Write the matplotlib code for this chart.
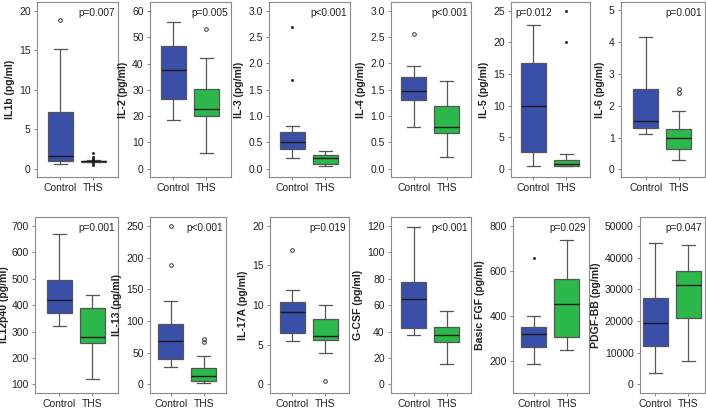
import matplotlib
matplotlib.use("Agg")
import matplotlib.pyplot as plt

plt.rcParams['font.family'] = ['Liberation Sans', 'DejaVu Sans']

groups = ["Control", "THS"]
labels = ["IL1b (pg/ml)", "IL-2 (pg/ml)", "IL-3 (pg/ml)", "IL-4 (pg/ml)", "IL-5 (pg/ml)", "IL-6 (pg/ml)",
          "IL12p40 (pg/ml)", "IL-13 (pg/ml)", "IL-17A (pg/ml)", "G-CSF (pg/ml)", "Basic FGF (pg/ml)", "PDGF-BB (pg/ml)"]
pvalues = ["p=0.007", "p=0.005", "p<0.001", "p<0.001", "p=0.012", "p=0.001",
           "p=0.001", "p<0.001", "p=0.019", "p<0.001", "p=0.029", "p=0.047"]

# [whislo, q1, med, q3, whishi] for Control and THS
control_stats = [
    [0.63, 0.97, 1.6, 7.2, 15.2],
    [18.4, 26.6, 37.7, 46.7, 55.8],
    [0.21, 0.38, 0.51, 0.70, 0.805],
    [0.79, 1.30, 1.48, 1.75, 1.96],
    [0.48, 2.64, 10.0, 16.7, 22.7],
    [1.10, 1.29, 1.52, 2.54, 4.15],
    [320, 372, 420, 496, 668],
    [27, 40, 68.6, 94.4, 131],
    [5.5, 6.5, 9.07, 10.4, 11.9],
    [37.7, 42.5, 64.8, 77.7, 119.5],
    [188, 261, 321, 350, 401],
    [3500, 12100, 19500, 27300, 44700],
]
ths_stats = [
    [0.85, 0.9, 0.95, 1.0, 1.05],
    [5.8, 19.9, 22.7, 30.3, 42.1],
    [0.05, 0.095, 0.21, 0.25, 0.34],
    [0.22, 0.68, 0.79, 1.20, 1.67],
    [0.48, 0.48, 0.8, 1.43, 2.38],
    [0.30, 0.65, 0.98, 1.27, 1.82],
    [120, 258, 278, 389, 439],
    [2.6, 5.3, 12.7, 26, 44],
    [3.9, 5.6, 6.1, 8.2, 10.0],
    [15.7, 32.4, 37.5, 43.5, 55.7],
    [250, 308, 452, 567, 739],
    [7500, 21000, 31500, 35900, 44000],
]
control_fliers = [[18.8], [], [2.69, 1.68], [2.57], [], [], [], [250, 188], [17.0], [], [658], []]
ths_fliers = [[2.0, 1.45, 1.25, 1.15, 0.65, 0.45], [53.2], [], [], [25.0, 20.1], [2.40, 2.52], [],
              [72, 67], [0.4], [], [], []]
# marker style of outliers: 'c' open circle, 'd' small dot
control_marks = ['c', 'c', 'd', 'c', 'c', 'c', 'c', 'c', 'c', 'c', 'd', 'c']
ths_marks = ['d', 'c', 'c', 'c', 'd', 'c', 'c', 'c', 'c', 'c', 'c', 'c']

yticks = [
    [0, 5, 10, 15, 20], [0, 10, 20, 30, 40, 50, 60], [0.0, 0.5, 1.0, 1.5, 2.0, 2.5, 3.0],
    [0.0, 0.5, 1.0, 1.5, 2.0, 2.5, 3.0], [0, 5, 10, 15, 20, 25], [0, 1, 2, 3, 4, 5],
    [100, 200, 300, 400, 500, 600, 700], [0, 50, 100, 150, 200, 250], [0, 5, 10, 15, 20],
    [0, 20, 40, 60, 80, 100, 120], [200, 400, 600, 800], [0, 10000, 20000, 30000, 40000, 50000],
]
ylims = [
    (-1.06, 21.1), (-3.2, 63.5), (-0.16, 3.17), (-0.16, 3.17), (-1.3, 26.4), (-0.24, 5.26),
    (67, 734), (-13.7, 264), (-1.1, 21.1), (-6.6, 126.8), (59, 840), (-2740, 52850),
]
tickfmt = [None, None, "{:.1f}", "{:.1f}", None, None, None, None, None, None, None, None]
p_left = [False, False, False, False, True, False, False, False, False, False, False, False]

# axes rectangles in pixels: left, top, right, bottom
rects = [
    (37, 2, 118, 177), (150, 2, 231, 177), (269, 2, 350, 177), (391, 2, 471, 177),
    (511, 2, 590, 177), (621, 2, 705, 177),
    (35, 217, 118, 393), (150, 217, 226, 393), (270, 217, 349, 393), (391, 217, 471, 393),
    (513, 217, 589, 393), (640, 217, 705, 393),
]

W, H = 706, 409
PX_PER_UNIT = 33.0
fig = plt.figure(figsize=(W / 100, H / 100), dpi=100)
colors = ["#3a4fa8", "#2db84b"]

for i in range(12):
    l, t, r, b = rects[i]
    ax = fig.add_axes([l / W, 1 - b / H, (r - l) / W, (b - t) / H])
    stats = []
    for s, fl, lab in ((control_stats[i], control_fliers[i], groups[0]),
                       (ths_stats[i], ths_fliers[i], groups[1])):
        stats.append(dict(whislo=s[0], q1=s[1], med=s[2], q3=s[3], whishi=s[4],
                          fliers=fl, label=lab))
    art = ax.bxp(stats, positions=[1, 2], widths=0.75, patch_artist=True, showfliers=True,
                 boxprops=dict(edgecolor="#555555", linewidth=0.9),
                 medianprops=dict(color="#1a1a1a", linewidth=1.0),
                 whiskerprops=dict(color="#555555", linewidth=0.9),
                 capprops=dict(color="#555555", linewidth=0.9),
                 capwidths=0.0001)
    for patch, c in zip(art['boxes'], colors):
        patch.set_facecolor(c)
    for cap in art['caps']:
        x = cap.get_xdata()
        m = (x[0] + x[1]) / 2
        cap.set_xdata([m - 0.2, m + 0.2])
    for fl, mk in zip(art['fliers'], (control_marks[i], ths_marks[i])):
        if mk == 'c':
            fl.set(marker='o', markersize=2.6, markerfacecolor='none',
                   markeredgecolor='#333333', markeredgewidth=0.7)
        else:
            fl.set(marker='o', markersize=1.6, markerfacecolor='#222222',
                   markeredgecolor='#222222', markeredgewidth=0.5)
    half = (r - l) / (2 * PX_PER_UNIT)
    ax.set_xlim(1.52 - half, 1.52 + half)
    ax.set_ylim(*ylims[i])
    ax.set_yticks(yticks[i])
    if tickfmt[i]:
        ax.set_yticklabels([tickfmt[i].format(v) for v in yticks[i]])
    else:
        ax.set_yticklabels([str(v) for v in yticks[i]])
    ax.set_xticks([1, 2])
    ax.set_xticklabels(groups)
    ax.tick_params(axis='y', labelsize=7.5, length=2.5, width=0.6, color="#777777",
                   labelcolor="#222222", pad=2)
    ax.tick_params(axis='x', labelsize=7.5, length=2.5, width=0.6, color="#777777",
                   labelcolor="#222222", pad=2)
    for sp in ax.spines.values():
        sp.set_color("#8a8a8a")
        sp.set_linewidth(0.8)
    ax.set_ylabel(labels[i], fontsize=7.6, fontweight='bold', color="#222222",
                  labelpad=1.5 if i == 6 else 3)
    if p_left[i]:
        ax.text(0.05, 0.965, pvalues[i], transform=ax.transAxes, ha='left', va='top',
                fontsize=7.3, color="#222222")
    else:
        ax.text(0.96, 0.965, pvalues[i], transform=ax.transAxes, ha='right', va='top',
                fontsize=7.3, color="#222222")

fig.savefig("out.png", dpi=100)
